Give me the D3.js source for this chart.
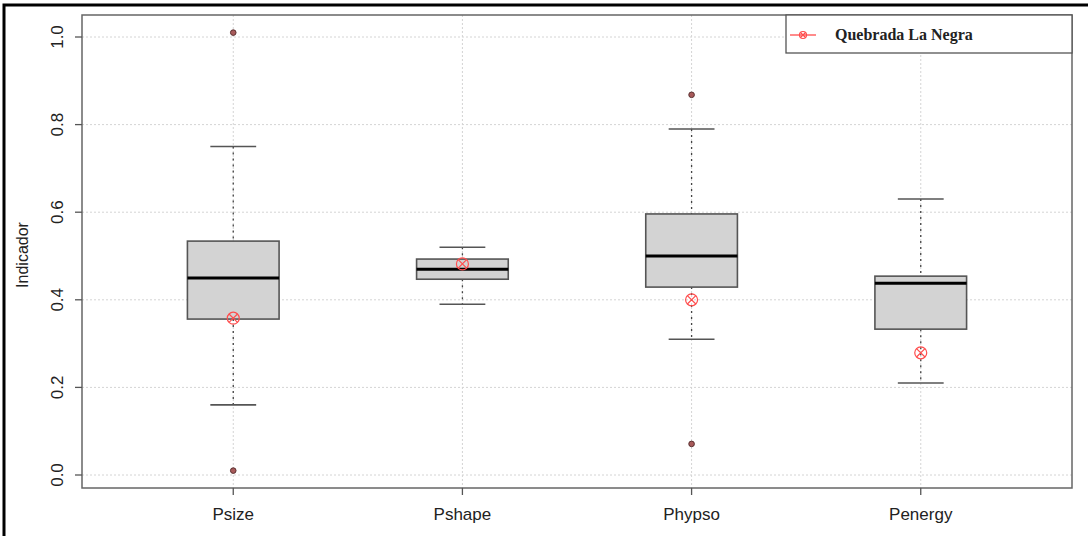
<!DOCTYPE html>
<html>
<head>
<meta charset="utf-8">
<script src="https://cdn.jsdelivr.net/npm/d3@7"></script>
<style>
  body { margin: 0; background: #fff; }
  svg { display: block; }
</style>
</head>
<body>
<svg id="chart" width="1088" height="536"></svg>
<script>
"use strict";

// values
const categories = ["Psize", "Pshape", "Phypso", "Penergy"];
const lowWhisker = [0.16, 0.39, 0.31, 0.21];
const q1 = [0.356, 0.447, 0.429, 0.333];
const median = [0.45, 0.47, 0.50, 0.438];
const q3 = [0.534, 0.493, 0.596, 0.454];
const highWhisker = [0.75, 0.52, 0.79, 0.63];
const outliers = [[1.01, 0.01], [], [0.868, 0.071], []];
const siteValues = [0.358, 0.482, 0.40, 0.279];
const yTicks = [0.0, 0.2, 0.4, 0.6, 0.8, 1.0];
const legendLabel = "Quebrada La Negra";

(() => {
	const svg = d3.select("#chart");
	const left = 82, right = 1072, top = 15, bottom = 488;

	// R style: boxes at 1..n, range padded 4%
	const x = d3.scaleLinear().domain([0.34, 4.66]).range([left, right]);
	const y = d3.scaleLinear().domain([0, 1]).range([475, 37]);

	// outer frame of the figure (top and left edges only)
	svg.append("path")
		.attr("d", "M4,536 V5 H1088")
		.attr("fill", "none")
		.attr("stroke", "#000")
		.attr("stroke-width", 3);

	// grid
	const grid = svg.append("g")
		.attr("stroke", "#d4d4d4")
		.attr("stroke-dasharray", "2,2")
		.attr("stroke-width", 1);
	grid.selectAll(".gy").data(yTicks).enter()
		.append("line")
		.attr("x1", left).attr("x2", right)
		.attr("y1", d => y(d)).attr("y2", d => y(d));
	grid.selectAll(".gx").data(categories).enter()
		.append("line")
		.attr("x1", (d, i) => x(i + 1)).attr("x2", (d, i) => x(i + 1))
		.attr("y1", top).attr("y2", bottom);

	const boxW = 0.4;
	const stats = categories.map((c, i) => ({
		name: c, pos: i + 1,
		lo: lowWhisker[i], q1: q1[i], med: median[i], q3: q3[i], hi: highWhisker[i],
		out: outliers[i], site: siteValues[i]
	}));

	const g = svg.selectAll(".box").data(stats).enter().append("g");

	// whiskers (dashed)
	g.append("line")
		.attr("x1", d => x(d.pos)).attr("x2", d => x(d.pos))
		.attr("y1", d => y(d.hi)).attr("y2", d => y(d.q3))
		.attr("stroke", "#444").attr("stroke-width", 1.3)
		.attr("stroke-dasharray", "2,4");
	g.append("line")
		.attr("x1", d => x(d.pos)).attr("x2", d => x(d.pos))
		.attr("y1", d => y(d.q1)).attr("y2", d => y(d.lo))
		.attr("stroke", "#444").attr("stroke-width", 1.3)
		.attr("stroke-dasharray", "2,4");

	// staples
	["hi", "lo"].forEach(k => {
		g.append("line")
			.attr("x1", d => x(d.pos - boxW / 4)).attr("x2", d => x(d.pos + boxW / 4))
			.attr("y1", d => y(d[k])).attr("y2", d => y(d[k]))
			.attr("stroke", "#555").attr("stroke-width", 1.6);
	});

	// boxes
	g.append("rect")
		.attr("x", d => x(d.pos - boxW / 2))
		.attr("width", d => x(d.pos + boxW / 2) - x(d.pos - boxW / 2))
		.attr("y", d => y(d.q3))
		.attr("height", d => y(d.q1) - y(d.q3))
		.attr("fill", "#d3d3d3")
		.attr("stroke", "#555")
		.attr("stroke-width", 1.6);

	// medians
	g.append("line")
		.attr("x1", d => x(d.pos - boxW / 2)).attr("x2", d => x(d.pos + boxW / 2))
		.attr("y1", d => y(d.med)).attr("y2", d => y(d.med))
		.attr("stroke", "#000").attr("stroke-width", 3);

	// outliers
	g.selectAll(".out").data(d => d.out.map(v => ({ pos: d.pos, v: v }))).enter()
		.append("circle")
		.attr("cx", d => x(d.pos)).attr("cy", d => y(d.v))
		.attr("r", 2.8)
		.attr("fill", "#a85a5a")
		.attr("stroke", "#5a3030")
		.attr("stroke-width", 1);

	// site marker: circle with an X (pch 13)
	function siteMark(sel, r) {
		sel.append("circle").attr("r", r)
			.attr("fill", "none").attr("stroke", "#ff4d4d").attr("stroke-width", 1.2);
		const k = r * 0.707;
		sel.append("path")
			.attr("d", `M${-k},${-k}L${k},${k}M${-k},${k}L${k},${-k}`)
			.attr("stroke", "#ff4d4d").attr("stroke-width", 1.2);
	}
	g.append("g")
		.attr("transform", d => `translate(${x(d.pos)},${y(d.site)})`)
		.call(siteMark, 6);

	// plot border
	svg.append("rect")
		.attr("x", left).attr("y", top)
		.attr("width", right - left).attr("height", bottom - top)
		.attr("fill", "none").attr("stroke", "#666").attr("stroke-width", 1.5);

	// y axis
	const yAxis = svg.append("g");
	yAxis.selectAll("line").data(yTicks).enter().append("line")
		.attr("x1", left - 7).attr("x2", left)
		.attr("y1", d => y(d)).attr("y2", d => y(d))
		.attr("stroke", "#555").attr("stroke-width", 1.3);
	yAxis.selectAll("text").data(yTicks).enter().append("text")
		.attr("transform", d => `translate(63,${y(d)}) rotate(-90)`)
		.attr("text-anchor", "middle")
		.attr("font-family", "Liberation Sans, Arial, sans-serif")
		.attr("font-size", 17)
		.attr("fill", "#222")
		.text(d => d.toFixed(1));

	svg.append("text")
		.attr("transform", "translate(28,255) rotate(-90)")
		.attr("text-anchor", "middle")
		.attr("font-family", "Liberation Sans, Arial, sans-serif")
		.attr("font-size", 16)
		.attr("fill", "#222")
		.text("Indicador");

	// x axis
	const xAxis = svg.append("g");
	xAxis.selectAll("line").data(categories).enter().append("line")
		.attr("x1", (d, i) => x(i + 1)).attr("x2", (d, i) => x(i + 1))
		.attr("y1", bottom).attr("y2", bottom + 7)
		.attr("stroke", "#555").attr("stroke-width", 1.3);
	xAxis.selectAll("text").data(categories).enter().append("text")
		.attr("x", (d, i) => x(i + 1))
		.attr("y", 520)
		.attr("text-anchor", "middle")
		.attr("font-family", "Liberation Sans, Arial, sans-serif")
		.attr("font-size", 17)
		.attr("fill", "#222")
		.text(d => d);

	// legend
	const lg = svg.append("g");
	lg.append("rect")
		.attr("x", 786).attr("y", top)
		.attr("width", right - 786).attr("height", 38)
		.attr("fill", "#fff").attr("stroke", "#555").attr("stroke-width", 1.3);
	lg.append("line")
		.attr("x1", 790).attr("x2", 816).attr("y1", 35).attr("y2", 35)
		.attr("stroke", "#ff4d4d").attr("stroke-width", 1.3);
	lg.append("g").attr("transform", "translate(803,35)").call(siteMark, 3.5);
	lg.append("text")
		.attr("x", 835).attr("y", 40)
		.attr("font-family", "Liberation Serif, Times New Roman, serif")
		.attr("font-weight", "bold")
		.attr("font-size", 16)
		.attr("fill", "#222")
		.text(legendLabel);
})();
</script>
</body>
</html>
